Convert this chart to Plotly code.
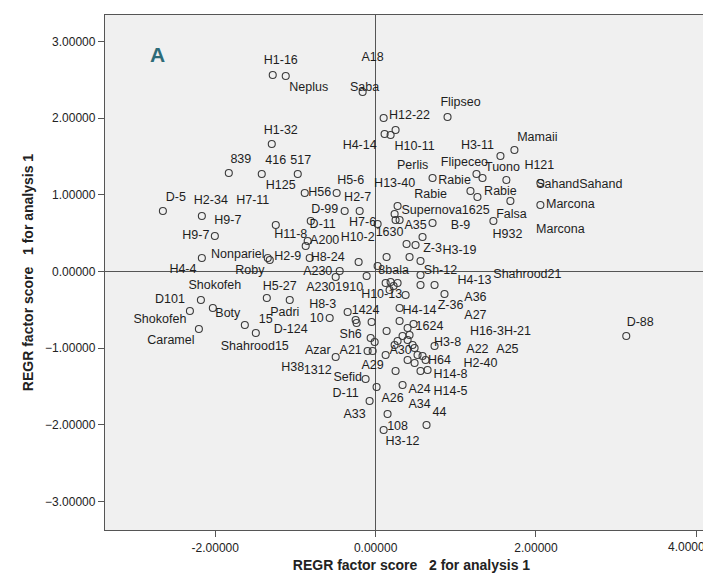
import plotly.graph_objects as go

# Point coordinates (factor score 2 on x, factor score 1 on y)
pt_x = [-1.283, -1.121, -1.295, -1.831, -1.420, -0.971, -0.884, -2.653, -2.167, -1.245,
        -0.809, -2.005, -0.847, -0.872, -2.167, -1.345, -1.320, -0.822,
        -2.179, -2.030, -2.316, -2.204, -1.357, -1.071, -1.631, -1.494,
        -0.162, 0.100, 0.112, 0.187, 0.249, 0.897, 1.557, 1.731, 0.710, 1.258,
        1.333, 1.631, 1.183, 1.270, 1.681, 2.055, 2.055, 1.469, -0.486, -0.386,
        -0.199, 0.274, 0.237, 0.249, 0.299, 0.025, 0.710, 0.585, 0.386, 0.498,
        -0.212, 0.137, 0.423, 0.560, 0.025, -0.498, -0.448, -0.112, 0.560, 0.125,
        0.187, 0.274, 0.224, 0.560, 0.735, 0.859, 0.174, 0.374, -0.349, 0.299,
        -0.573, -0.249, -0.237, -0.050, 0.137, 0.299, 0.399, 0.473, -0.062, -0.012,
        0.274, 0.336, 0.423, 0.399, 0.237, 0.461, 0.486, -0.100, -0.037, -0.498,
        0.125, 0.735, 0.523, 0.585, 0.623, 0.399, 0.486, 0.249, 0.560, 0.648,
        -0.125, 0.012, -0.075, 0.336, 0.149, 0.635, 0.100, 3.126]
pt_y = [2.562, 2.549, 1.662, 1.284, 1.271, 1.271, 1.023, 0.789, 0.724, 0.606,
        0.658, 0.463, 0.398, 0.332, 0.176, 0.176, 0.150, 0.176,
        -0.372, -0.476, -0.515, -0.750, -0.346, -0.372, -0.698, -0.802,
        2.340, 2.001, 1.793, 1.780, 1.845, 2.014, 1.506, 1.584, 1.219, 1.271,
        1.219, 1.193, 1.050, 0.971, 0.919, 1.154, 0.867, 0.658, 1.023, 0.789,
        0.789, 0.854, 0.750, 0.671, 0.671, 0.619, 0.632, 0.450, 0.359, 0.346,
        0.124, 0.189, 0.189, 0.137, 0.072, -0.072, 0.007, -0.059, -0.046, -0.150,
        -0.137, -0.150, -0.189, -0.176, -0.176, -0.293, -0.241, -0.306, -0.528, -0.476,
        -0.606, -0.632, -0.671, -0.658, -0.776, -0.645, -0.737, -0.684, -0.867, -0.919,
        -0.906, -0.841, -0.828, -0.893, -0.958, -0.958, -0.997, -1.037, -1.037, -1.115,
        -1.089, -0.971, -1.089, -1.102, -1.154, -1.154, -1.193, -1.297, -1.297, -1.284,
        -1.402, -1.506, -1.688, -1.480, -1.858, -2.001, -2.066, -0.841]

# Case labels and where they sit (data units)
lab_text = ["H1-16", "Neplus", "A18", "Saba", "H12-22", "Flipseo", "H1-32", "H4-14", "H10-11",
            "H3-11", "Mamaii", "839", "416", "517", "Perlis", "Flipeceo", "Tuono", "H121",
            "H5-6", "H13-40", "Rabie", "SahandSahand", "H125", "H56", "H2-7", "Rabie", "Rabie",
            "D-5", "H2-34", "H7-11", "H9-7", "D-99", "Supernova1625", "Marcona", "Falsa",
            "H9-7", "H11-8", "D-11", "H7-6", "A35", "B-9", "H932", "Marcona", "1630", "A200",
            "H10-2", "Z-3", "H3-19", "Nonpariel", "H2-9", "H8-24", "H4-4", "Roby", "A230",
            "8bala", "Sh-12", "Shahrood21", "H4-13", "Shokofeh", "H5-27", "A2301910", "H10-13",
            "A36", "D101", "H8-3", "Z-36", "1424", "H4-14", "Boty", "Padri", "A27", "Shokofeh",
            "15", "10", "1624", "D-124", "H16-3H-21", "D-88", "Sh6", "Caramel", "H3-8",
            "Shahrood15", "Azar", "A21", "A30", "A22", "A25", "H64", "H2-40", "A29", "H38",
            "1312", "Sefid", "H14-8", "A24", "H14-5", "D-11", "A26", "A34", "44", "A33",
            "108", "H3-12"]
lab_x = [-1.183, -0.834, -0.037, -0.137, 0.423, 1.059, -1.183, -0.199, 0.486,
         1.270, 2.017, -1.681, -1.245, -0.934, 0.461, 1.108, 1.582, 2.042,
         -0.311, 0.237, 0.984, 2.540, -1.183, -0.697, -0.224, 0.685, 1.557,
         -2.491, -2.055, -1.532, -1.843, -0.635, 0.872, 2.428, 1.694,
         -2.242, -1.059, -0.660, -0.162, 0.498, 1.059, 1.644, 2.304, 0.174, -0.635,
         -0.224, 0.710, 1.046, -1.719, -1.096, -0.598, -2.403, -1.569, -0.722,
         0.224, 0.809, 1.893, 1.233, -2.005, -1.196, -0.511, 0.075,
         1.245, -2.565, -0.660, 0.934, -0.125, 0.548, -1.843, -1.133, 1.245, -2.690,
         -1.370, -0.735, 0.672, -1.059, 1.557, 3.300, -0.311, -2.553, 0.897,
         -1.507, -0.722, -0.311, 0.311, 1.270, 1.644, 0.797, 1.308, -0.037, -1.034,
         -0.722, -0.349, 0.934, 0.548, 0.934, -0.374, 0.212, 0.548, 0.797, -0.262,
         0.274, 0.336]
lab_y = [2.744, 2.392, 2.784, 2.392, 2.027, 2.197, 1.832, 1.636, 1.623,
         1.636, 1.741, 1.454, 1.441, 1.441, 1.375, 1.415, 1.349, 1.375,
         1.180, 1.141, 1.180, 1.128, 1.115, 1.023, 0.958, 0.997, 1.037,
         0.958, 0.919, 0.919, 0.658, 0.802, 0.789, 0.867, 0.737,
         0.463, 0.476, 0.606, 0.632, 0.593, 0.593, 0.476, 0.541, 0.502, 0.398,
         0.437, 0.293, 0.267, 0.215, 0.189, 0.176, 0.020, 0.007, -0.007,
         0.007, 0.007, -0.046, -0.124, -0.189, -0.202, -0.215, -0.306,
         -0.345, -0.372, -0.437, -0.450, -0.515, -0.515, -0.554, -0.541, -0.580, -0.632,
         -0.632, -0.619, -0.724, -0.763, -0.789, -0.671, -0.828, -0.906, -0.932,
         -0.984, -1.037, -1.037, -1.037, -1.023, -1.023, -1.167, -1.206, -1.232, -1.258,
         -1.297, -1.389, -1.349, -1.545, -1.571, -1.597, -1.662, -1.740, -1.845, -1.871,
         -2.027, -2.223]

x_ticks = [-2, 0, 2, 4]
x_tick_text = ["-2.00000", "0.00000", "2.00000", "4.00000"]
y_ticks = [-3, -2, -1, 0, 1, 2, 3]

FONT = "Liberation Sans, Arial, sans-serif"
AX = "#555555"
TICKFONT = dict(family=FONT, size=12, color="#222222")

fig = go.Figure()
fig.add_trace(go.Scatter(
    x=pt_x, y=pt_y, mode="markers",
    marker=dict(symbol="circle-open", size=7, color="#3a3a3a", line=dict(width=1.1)),
    showlegend=False, hoverinfo="skip", cliponaxis=False))
fig.add_trace(go.Scatter(
    x=lab_x, y=lab_y, mode="text", text=lab_text,
    textfont=dict(family=FONT, size=12.5, color="#1e1e1e"),
    showlegend=False, hoverinfo="skip", cliponaxis=False))

fig.add_annotation(x=-2.715, y=2.823, xref="x", yref="y", text="<b>A</b>",
                   showarrow=False, font=dict(family=FONT, size=21, color="#2e6b78"))

# last x tick label drawn as an annotation so it stays inside the page edge
fig.add_annotation(x=1, y=0, xref="paper", yref="paper", text=x_tick_text[-1],
                   showarrow=False, xanchor="right", yanchor="top", xshift=-4, yshift=-8,
                   font=TICKFONT)

axis_common = dict(showgrid=False, zeroline=True, zerolinecolor=AX, zerolinewidth=1.3,
                   showline=True, linecolor=AX, linewidth=1.3, mirror=True,
                   ticks="outside", ticklen=6, tickcolor=AX, tickwidth=1.3, automargin=False,
                   tickfont=TICKFONT)

fig.update_layout(
    width=711, height=575,
    margin=dict(l=97, r=1, t=7, b=53),
    paper_bgcolor="white", plot_bgcolor="#f0f0f0",
    xaxis=dict(range=[-3.375, 4.27], tickvals=x_ticks,
               ticktext=x_tick_text[:-1] + [""],
               title=dict(text="<b>REGR factor score\u00a0\u00a0\u00a02 for analysis 1</b>",
                          font=dict(family=FONT, size=14, color="#222222"), standoff=6),
               **axis_common),
    yaxis=dict(range=[-3.37, 3.344], tickvals=y_ticks, tickformat=".5f",
               title=dict(text="<b>REGR factor score\u00a0\u00a0\u00a01 for analysis 1</b>",
                          font=dict(family=FONT, size=14, color="#222222"), standoff=8),
               **axis_common),
)

fig.write_html("out.html")
